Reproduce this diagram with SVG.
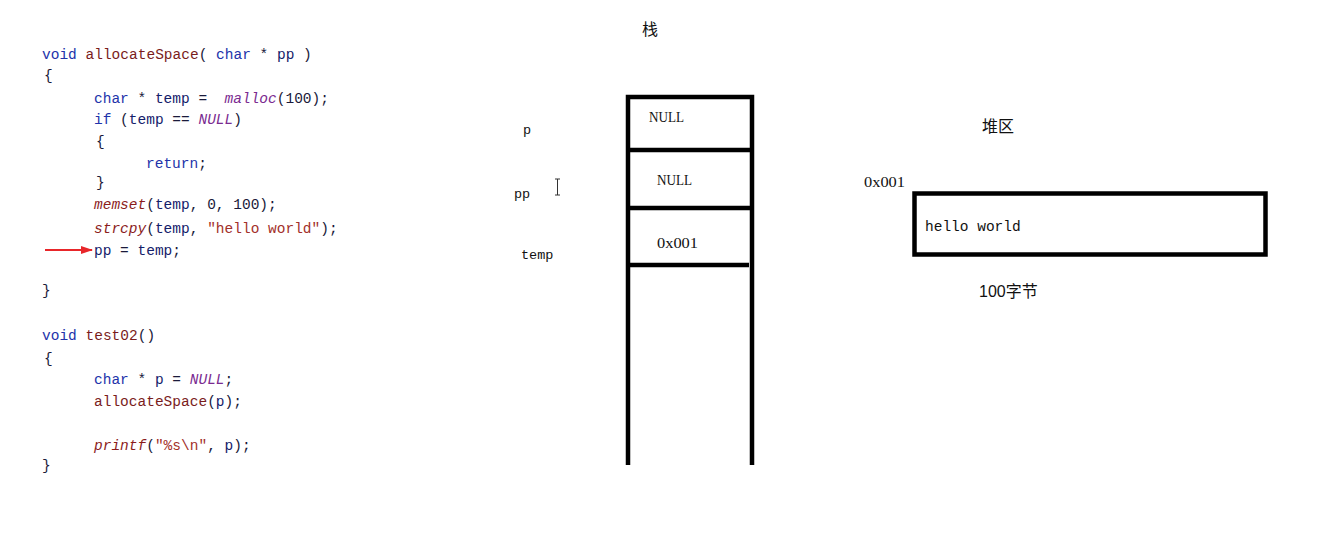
<svg xmlns="http://www.w3.org/2000/svg" width="1340" height="546" viewBox="0 0 1340 546">
<style>
.code{font-family:"Liberation Mono","DejaVu Sans Mono",monospace;font-size:14.5px;fill:#1a1a3a;white-space:pre}
.kw{fill:#2233aa}
.id{fill:#14206a}
.fn{fill:#7a1c1c}
.mac{fill:#7a2a90;font-style:italic}
.lib{fill:#8b1c1c;font-style:italic}
.str{fill:#a3302a}
.lbl{font-family:"Liberation Mono","DejaVu Sans Mono",monospace;font-size:13.5px;fill:#111}
.val{font-family:"Liberation Serif","DejaVu Serif",serif;font-size:15px;fill:#111}
.cjk{font-family:"Liberation Sans","Noto Sans CJK SC",sans-serif;font-size:16px;fill:#111}
.wall{stroke:#000;stroke-width:4.5;fill:none}
</style>
<defs>
<marker id="ah" markerWidth="12" markerHeight="8" refX="11" refY="4" orient="auto" markerUnits="userSpaceOnUse">
<path d="M0,0 L12,4 L0,8 Z" fill="#e8262a"/>
</marker>
</defs>
<rect width="1340" height="546" fill="#fff"/>
<g id="code">
<text class="code" x="42" y="59"><tspan class="kw">void</tspan> <tspan class="fn">allocateSpace</tspan>( <tspan class="kw">char</tspan> * <tspan class="id">pp</tspan> )</text>
<text class="code" x="44" y="80">{</text>
<text class="code" x="94" y="103"><tspan class="kw">char</tspan> * <tspan class="id">temp</tspan> =  <tspan class="mac">malloc</tspan>(100);</text>
<text class="code" x="94" y="124"><tspan class="kw">if</tspan> (<tspan class="id">temp</tspan> == <tspan class="mac">NULL</tspan>)</text>
<text class="code" x="96" y="146">{</text>
<text class="code" x="146" y="168"><tspan class="kw">return</tspan>;</text>
<text class="code" x="96" y="187">}</text>
<text class="code" x="94" y="209"><tspan class="lib">memset</tspan>(<tspan class="id">temp</tspan>, 0, 100);</text>
<text class="code" x="94" y="233"><tspan class="lib">strcpy</tspan>(<tspan class="id">temp</tspan>, <tspan class="str">"hello world"</tspan>);</text>
<text class="code" x="94" y="255"><tspan class="id">pp</tspan> = <tspan class="id">temp</tspan>;</text>
<text class="code" x="42" y="295">}</text>
<text class="code" x="42" y="340"><tspan class="kw">void</tspan> <tspan class="fn">test02</tspan>()</text>
<text class="code" x="44" y="363">{</text>
<text class="code" x="94" y="384"><tspan class="kw">char</tspan> * <tspan class="id">p</tspan> = <tspan class="mac">NULL</tspan>;</text>
<text class="code" x="94" y="406"><tspan class="fn">allocateSpace</tspan>(<tspan class="id">p</tspan>);</text>
<text class="code" x="94" y="450"><tspan class="lib">printf</tspan>(<tspan class="str">"%s\n"</tspan>, <tspan class="id">p</tspan>);</text>
<text class="code" x="42" y="470">}</text>
</g>
<g id="connectors">
<line x1="45" y1="250" x2="92" y2="250" stroke="#e8262a" stroke-width="2.2" marker-end="url(#ah)"/>
</g>
<g id="stack">
<text class="cjk" x="650" y="35" text-anchor="middle">栈</text>
<path class="wall" d="M628,465 V97 H752 V465"/>
<line class="wall" x1="628" y1="150" x2="752" y2="150"/>
<line class="wall" x1="628" y1="208" x2="752" y2="208"/>
<line class="wall" x1="628" y1="265" x2="749" y2="265"/>
<text class="val" x="649" y="122" textLength="35" lengthAdjust="spacingAndGlyphs">NULL</text>
<text class="val" x="657" y="185" textLength="35" lengthAdjust="spacingAndGlyphs">NULL</text>
<text class="val" x="657" y="248" textLength="41" lengthAdjust="spacingAndGlyphs">0x001</text>
<text class="lbl" x="523" y="134">p</text>
<text class="lbl" x="514" y="198">pp</text>
<text class="lbl" x="521" y="259">temp</text>
<path d="M555,179 H560 M557.5,179 V195 M555,195 H560" stroke="#333" stroke-width="1" fill="none"/>
</g>
<g id="heap">
<text class="cjk" x="998" y="132" text-anchor="middle">堆区</text>
<text class="val" x="864" y="187" textLength="41" lengthAdjust="spacingAndGlyphs">0x001</text>
<rect class="wall" x="914.5" y="193.5" width="351" height="61"/>
<text class="lbl" x="925" y="231" style="font-size:14.5px">hello world</text>
<text class="cjk" x="979" y="297">100字节</text>
</g>
</svg>
